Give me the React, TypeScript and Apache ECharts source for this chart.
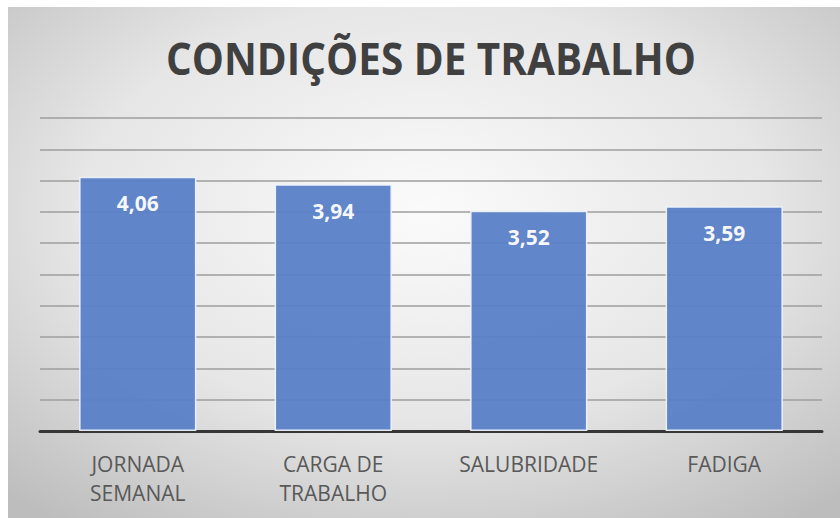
import React, { useEffect, useRef } from "react";
import * as echarts from "echarts";

const categories = ["JORNADA\nSEMANAL", "CARGA DE\nTRABALHO", "SALUBRIDADE", "FADIGA"];
const values = [4.06, 3.94, 3.52, 3.59];
const titleText = "CONDIÇÕES DE TRABALHO";

export default function App() {
  const ref = useRef<HTMLDivElement>(null);
  useEffect(() => {
    if (!ref.current) return;
    const chart = echarts.init(ref.current, null, { renderer: "svg" });
    chart.setOption({
      animation: false,
      backgroundColor: "#ffffff",
      graphic: [
        {
          type: "rect",
          z: -100,
          silent: true,
          shape: { x: 8, y: 7, width: 832, height: 511 },
          style: {
            fill: {
              type: "radial",
              x: 0.5,
              y: 0.4,
              r: 0.75,
              colorStops: [
                { offset: 0, color: "#fbfbfb" },
                { offset: 0.55, color: "#e6e6e6" },
                { offset: 1, color: "#bdbdbd" },
              ],
            },
          },
        },
        {
          type: "text",
          x: 431,
          y: 58,
          scaleX: 0.92,
          z: 10,
          style: {
            text: titleText,
            fontFamily: "Open Sans",
            fontWeight: "bold",
            fontSize: 44,
            fill: "#404040",
            textAlign: "center",
            textVerticalAlign: "middle",
          },
        },
      ],
      grid: { left: 40, right: 18, top: 118, bottom: 87, containLabel: false },
      xAxis: {
        type: "category",
        data: categories,
        axisLine: { lineStyle: { color: "#363636", width: 3 } },
        axisTick: { show: false },
        axisLabel: {
          color: "#595959",
          fontFamily: "Open Sans",
          fontSize: 21,
          lineHeight: 29,
          margin: 18,
        },
      },
      yAxis: {
        type: "value",
        min: 0,
        max: 5,
        interval: 0.5,
        axisLabel: { show: false },
        axisLine: { show: false },
        axisTick: { show: false },
        splitLine: { lineStyle: { color: "#9e9e9e", width: 1.5 } },
      },
      series: [
        {
          type: "bar",
          data: values,
          barWidth: "60%",
          itemStyle: {
            color: "#5a7fc7",
            borderColor: "#eef3fb",
            borderWidth: 1.5,
            opacity: 0.95,
          },
          label: {
            show: true,
            position: "insideTop",
            distance: 16,
            color: "#ffffff",
            fontFamily: "Open Sans",
            fontWeight: "bold",
            fontSize: 21,
            formatter: (p: any) => p.value.toFixed(2).replace(".", ","),
          },
        },
      ],
    });
    return () => chart.dispose();
  }, []);
  return (
    <div
      ref={ref}
      style={{ position: "fixed", left: 0, top: 0, width: 840, height: 518 }}
    />
  );
}
